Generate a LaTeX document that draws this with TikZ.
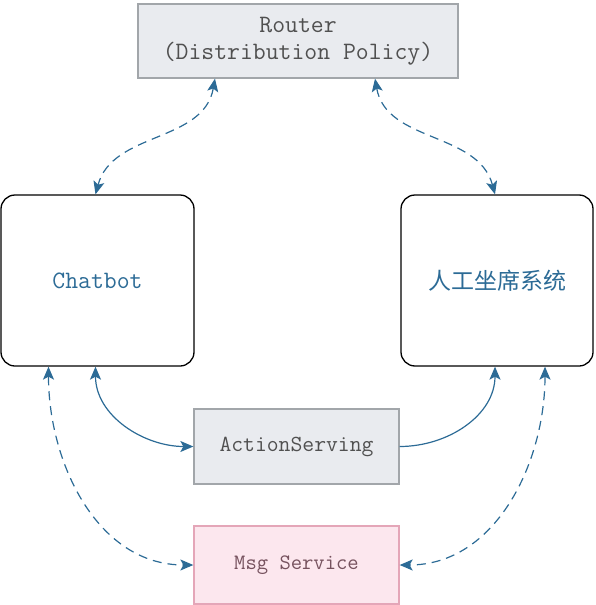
\documentclass[tikz,border=0pt]{standalone}
\usepackage{fontspec}
\newfontfamily\cjk{Noto Sans CJK SC}
\usepackage{tikz}
\usetikzlibrary{arrows.meta, positioning, calc}

\definecolor{linkblue}{HTML}{2C6B96}
\definecolor{boxgray}{HTML}{E9EBEF}
\definecolor{edgegray}{HTML}{A2A6AA}
\definecolor{textgray}{HTML}{505050}
\definecolor{boxpink}{HTML}{FCE7EE}
\definecolor{edgepink}{HTML}{E4A6B8}
\definecolor{textpink}{HTML}{76525E}

\begin{document}
\begin{tikzpicture}[x=1pt, y=-1pt,
	service/.style={draw=edgegray, fill=boxgray, line width=1.3pt, text=textgray, align=center, inner sep=0pt, font=\ttfamily\fontsize{23}{28}\selectfont},
	party/.style={draw=black, line width=1.3pt, rounded corners=14pt, fill=white, text=linkblue, minimum width=193pt, minimum height=171pt, inner sep=0pt},
	link/.style={draw=linkblue, line width=1.2pt, >={Stealth[length=13pt, width=11pt, inset=3pt]}},
	dashlink/.style={link, dash pattern=on 9pt off 6pt}]
	\useasboundingbox (0,0) rectangle (596,605);
	% boxes
	\node[service, minimum width=320pt, minimum height=74pt, font=\ttfamily\fontsize{25}{27}\selectfont] (router) at (298,41) {Router\\(Distribution Policy)};
	\node[party, font=\ttfamily\fontsize{25}{28}\selectfont] (chatbot) at (97.5,280.5) {Chatbot};
	\node[party, minimum width=192pt, font=\cjk\fontsize{23}{28}\selectfont] (agent) at (497,280.5) {人工坐席系统};
	\node[service, minimum width=205pt, minimum height=75pt] (action) at (296.5,446.5) {ActionServing};
	\node[service, draw=edgepink, fill=boxpink, text=textpink, minimum width=205pt, minimum height=78pt, font=\ttfamily\fontsize{22}{26}\selectfont] (msg) at (296.5,565) {Msg Service};
	% router links
	\draw[dashlink, <->] ([xshift=-83pt]router.south) to[out=-100, in=75] ([xshift=-2pt]chatbot.north);
	\draw[dashlink, <->] ([xshift=77pt]router.south) to[out=-80, in=105] ([xshift=-2pt]agent.north);
	% action serving
	\draw[link, <->] ([xshift=-2pt]chatbot.south) to[out=-90, in=180] (action.west);
	\draw[link, ->] (action.east) to[out=0, in=-90] ([xshift=-2pt]agent.south);
	% msg service
	\draw[dashlink, <->] ([xshift=-49pt]chatbot.south) to[out=-90, in=180] (msg.west);
	\draw[dashlink, <->] ([xshift=48pt]agent.south) to[out=-90, in=0] (msg.east);
\end{tikzpicture}
\end{document}
